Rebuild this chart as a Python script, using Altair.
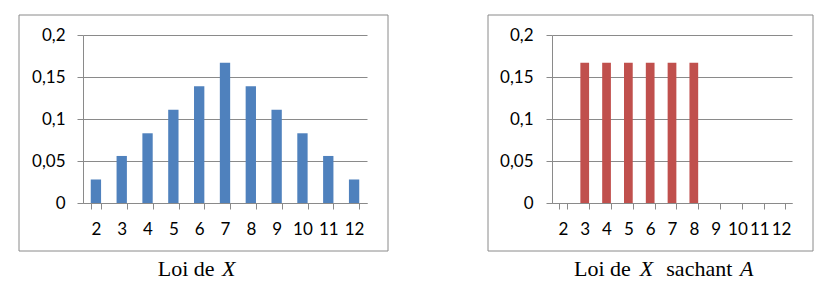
import altair as alt
import pandas as pd

# ---- data ----
x_values = ["2", "3", "4", "5", "6", "7", "8", "9", "10", "11", "12"]
p_X = [0.028, 0.056, 0.083, 0.111, 0.139, 0.167, 0.139, 0.111, 0.083, 0.056, 0.028]
p_X_given_A = [0, 0.167, 0.167, 0.167, 0.167, 0.167, 0.167, 0, 0, 0, 0]
y_ticks = [0, 0.05, 0.1, 0.15, 0.2]
caption_left = [("Loi de", "normal"), ("X", "italic")]
caption_right = [("Loi de", "normal"), ("X", "italic"), ("sachant", "normal"), ("A", "italic")]

GRAY = "#8a8a8a"
LABEL_FONT = "Lato"
CAP_FONT = "Liberation Serif"
VIEW_H = 168


def panel(values, color, width, box, caption, caption_x, label_size, ylab_pad):
    df = pd.DataFrame({"x": x_values, "p": values})
    bars = alt.Chart(df).mark_bar(color=color).encode(
        x=alt.X(
            "x:N",
            sort=x_values,
            scale=alt.Scale(paddingInner=0.6, paddingOuter=0.3),
            axis=alt.Axis(
                title=None,
                labelAngle=0,
                tickBand="extent",
                tickSize=6,
                tickColor=GRAY,
                domainColor=GRAY,
                labelFont=LABEL_FONT,
                labelFontSize=label_size,
                labelColor="black",
                labelPadding=12,
                grid=False,
            ),
        ),
        y=alt.Y(
            "p:Q",
            scale=alt.Scale(domain=[0, 0.2], nice=False),
            axis=alt.Axis(
                title=None,
                values=y_ticks,
                labelExpr="replace(toString(datum.value), '.', ',')",
                tickSize=6,
                tickColor=GRAY,
                domainColor=GRAY,
                gridColor=GRAY,
                labelFont=LABEL_FONT,
                labelFontSize=label_size,
                labelColor="black",
                labelPadding=ylab_pad,
            ),
        ),
    )
    one = pd.DataFrame({"a": [0]})
    frame = alt.Chart(one).mark_rect(fill="transparent", stroke=GRAY, strokeWidth=1).encode(
        x=alt.value(box[0]), x2=alt.value(box[1]), y=alt.value(box[2]), y2=alt.value(box[3])
    )
    texts = []
    for (txt, style), xpos in zip(caption, caption_x):
        texts.append(
            alt.Chart(one)
            .mark_text(
                text=txt,
                align="left",
                baseline="alphabetic",
                font=CAP_FONT,
                fontSize=22,
                fontStyle=style,
                color="black",
            )
            .encode(x=alt.value(xpos), y=alt.value(241))
        )
    return alt.layer(frame, bars, *texts).properties(width=width, height=VIEW_H)


left = panel(p_X, "#4F81BD", 284, (-64, 305, -20, 216), caption_left, [74.7, 139], 17, 12)
right = panel(p_X_given_A, "#C0504D", 240, (-64, 261, -20, 216), caption_right,
              [22, 87.7, 114.3, 188], 17, 13)

chart = (
    alt.hconcat(left, right, spacing=98)
    .properties(padding={"left": 18, "top": 14, "right": 0, "bottom": 0}, background="white")
    .configure_view(strokeWidth=0)
)

chart.save("out.html", embed_options={"renderer": "svg", "actions": False})
